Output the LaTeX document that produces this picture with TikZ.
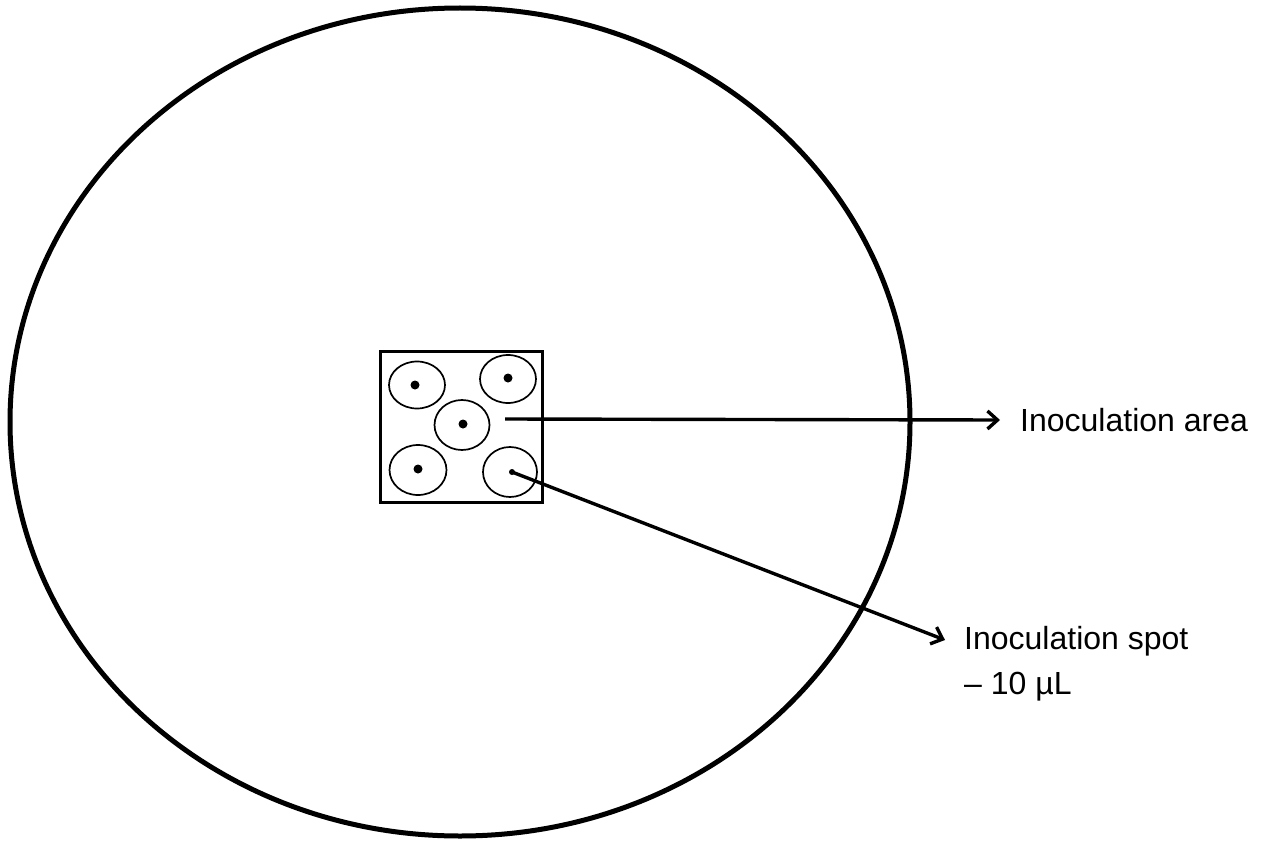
\documentclass[tikz,border=0pt]{standalone}
\usepackage{fontspec}
\setmainfont{Liberation Sans}
\usetikzlibrary{arrows.meta,shapes.geometric}
\begin{document}
\begin{tikzpicture}[x=1pt,y=-1pt,
  spot/.style={draw,line width=1.7pt,ellipse,inner sep=0pt},
  dot/.style={fill,circle,inner sep=0pt,minimum size=9pt},
  conn/.style={line width=3.4pt,-{Straight Barb[length=10pt,width=18pt,line width=3.4pt]}},
  lbl/.style={anchor=west,font=\fontsize{32}{45}\selectfont,align=left,inner sep=0pt}]
\useasboundingbox (0,0) rectangle (1265,840);
\draw[line width=5pt] (460,422) ellipse [x radius=450, y radius=414];
\node[draw,line width=2.4pt,minimum width=162pt,minimum height=151pt,inner sep=0pt] (area) at (461.5,427) {};
\node[spot,minimum width=56pt,minimum height=47pt] (s1) at (417,385) {};
\node[spot,minimum width=56pt,minimum height=48pt] (s2) at (508,379) {};
\node[spot,minimum width=55pt,minimum height=50pt] (s3) at (462,425) {};
\node[spot,minimum width=57pt,minimum height=50pt] (s4) at (418,470) {};
\node[spot,minimum width=54pt,minimum height=50pt] (s5) at (510,472) {};
\node[dot] (d1) at (415,385) {};
\node[dot] (d2) at (508,378) {};
\node[dot] (d3) at (463,424) {};
\node[dot] (d4) at (418,469) {};
\node[dot,minimum size=6pt] (d5) at (512,472) {};
\coordinate (a0) at (505,419);
\coordinate (a2) at (945,640);
\node[lbl] (t1) at (1020,420) {Inoculation area};
\node[lbl] (t2) at (964,664) {Inoculation spot\\– 10 µL};
\draw[conn] (a0) -- ([xshift=-20pt]t1.west);
\draw[conn] (d5.center) -- (a2);
\end{tikzpicture}
\end{document}
